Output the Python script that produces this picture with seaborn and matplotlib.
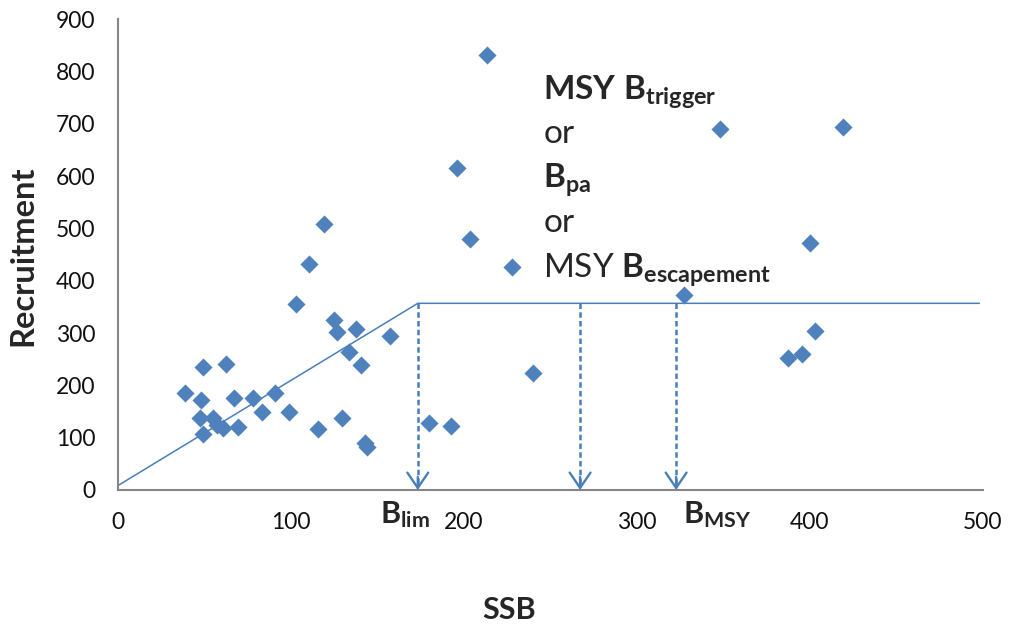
import pandas as pd
import seaborn as sns
import matplotlib.pyplot as plt

# stock-recruitment points
ssb = [39, 48.3, 49.6, 62.7, 47.7, 55.4, 49.6, 57.3, 61.2, 69.8, 67.5, 78.5, 83.4, 91, 99.3,
       115.7, 129.6, 144, 143, 103.2, 110.5, 119.4, 125.3, 127, 137.9, 134, 140.6, 157.5,
       179.7, 192.6, 213.4, 196.4, 203.9, 227.9, 240, 327.6, 348.3, 387.7, 395.3, 403.2,
       400.3, 419.4]
recruitment = [186, 172, 236, 241, 137, 137, 108, 124, 118, 121, 175, 175, 150, 185, 150,
               116, 138, 83, 90, 355, 433, 508, 325, 303, 308, 264, 239, 294,
               128, 122, 832, 616, 480, 427, 224, 373, 690, 252, 260, 304,
               472, 694]

# reference points
b_lim = 173.5
b_pa = 267.3
b_msy = 322.8
r_plateau = 357
hockey_x = [0, b_lim, 498]
hockey_y = [8, r_plateau, r_plateau]

df = pd.DataFrame({'SSB': ssb, 'Recruitment': recruitment})

blue = '#4F81BD'
line_blue = '#4A7EBB'
grey = '#868686'

sns.set_style('white')
plt.rcParams['font.family'] = ['Lato', 'DejaVu Sans']
plt.rcParams['mathtext.fontset'] = 'custom'
plt.rcParams['mathtext.rm'] = 'Lato'
plt.rcParams['mathtext.bf'] = 'Lato:bold'
plt.rcParams['mathtext.it'] = 'Lato:italic'

fig = plt.figure(figsize=(10.09, 6.25), dpi=100)
ax = fig.add_axes([0.1165, 0.216, 0.8575, 0.753])

sns.scatterplot(data=df, x='SSB', y='Recruitment', marker='D', s=85, color=blue,
                edgecolor=blue, linewidth=0, ax=ax, zorder=3)

ax.plot(hockey_x, hockey_y, color=line_blue, lw=1.1, zorder=2)

# dashed drop lines with open arrow heads
for xb in [b_lim, b_pa, b_msy]:
    ax.plot([xb, xb], [r_plateau, 12], color=line_blue, lw=1.8, ls=(0, (2.2, 1.3)), zorder=2)
    ax.annotate('', xy=(xb, 0), xytext=(xb, 25),
                arrowprops=dict(arrowstyle='->,head_length=1.1,head_width=0.75',
                                color=line_blue, lw=1.7, shrinkA=0, shrinkB=0,
                                mutation_scale=10))

ax.set_xlim(0, 500)
ax.set_ylim(0, 900)
ax.set_xticks(range(0, 501, 100))
ax.set_yticks(range(0, 901, 100))
for side in ['top', 'right']:
    ax.spines[side].set_visible(False)
for side in ['left', 'bottom']:
    ax.spines[side].set_color(grey)
    ax.spines[side].set_linewidth(1.5)
ax.tick_params(axis='both', direction='out', length=6, width=1.2, color=grey,
               labelsize=16.5, labelcolor='#111111')
ax.tick_params(axis='x', pad=10)
ax.tick_params(axis='y', pad=10)

ax.set_xlabel('SSB', fontsize=22, fontweight='bold', va='center')
ax.xaxis.set_label_coords(0.452, -0.256)
ax.set_ylabel('Recruitment', fontsize=23.5, fontweight='bold', va='center')
ax.yaxis.set_label_coords(-0.109, 0.497)

# labels for reference points
ax.text(151.5, -63, r'$\mathbf{B_{lim}}$', fontsize=22, va='baseline', clip_on=False)
ax.text(327, -63, r'$\mathbf{B_{MSY}}$', fontsize=22, va='baseline', clip_on=False)

tx = 246
ax.text(tx, 746, r'$\mathbf{MSY\ B_{trigger}}$', fontsize=24, va='baseline')
ax.text(tx, 663, 'or', fontsize=24, va='baseline')
ax.text(tx, 577, r'$\mathbf{B_{pa}}$', fontsize=24, va='baseline')
ax.text(tx, 493, 'or', fontsize=24, va='baseline')
ax.text(tx, 405, r'MSY $\mathbf{B_{escapement}}$', fontsize=24, va='baseline')

plt.savefig('out.png', dpi=100)
